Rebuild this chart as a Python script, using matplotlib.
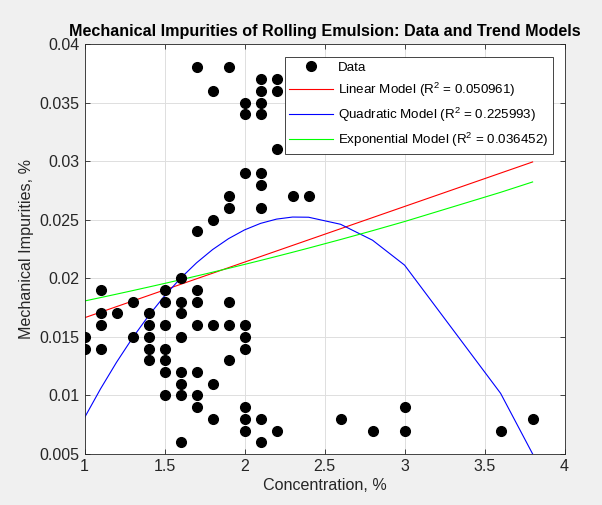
import numpy as np
import matplotlib
matplotlib.use("Agg")
import matplotlib.pyplot as plt
from matplotlib.ticker import FuncFormatter

plt.rcParams['font.family'] = ['Liberation Sans', 'DejaVu Sans']
plt.rcParams['mathtext.fontset'] = 'custom'
plt.rcParams['mathtext.rm'] = 'Liberation Sans'
plt.rcParams['mathtext.it'] = 'Liberation Sans:italic'

# measured data (concentration %, mechanical impurities %)
conc = [1.0, 1.0,
        1.1, 1.1, 1.1, 1.1,
        1.2,
        1.3, 1.3,
        1.4, 1.4, 1.4, 1.4, 1.4,
        1.5, 1.5, 1.5, 1.5, 1.5, 1.5, 1.5,
        1.6, 1.6, 1.6, 1.6, 1.6, 1.6, 1.6, 1.6,
        1.7, 1.7, 1.7, 1.7, 1.7, 1.7, 1.7, 1.7,
        1.8, 1.8, 1.8, 1.8, 1.8,
        1.9, 1.9, 1.9, 1.9, 1.9, 1.9,
        2.0, 2.0, 2.0, 2.0, 2.0, 2.0, 2.0, 2.0, 2.0,
        2.1, 2.1, 2.1, 2.1, 2.1, 2.1, 2.1, 2.1, 2.1,
        2.2, 2.2, 2.2, 2.2,
        2.3, 2.4, 2.6, 2.8, 3.0, 3.0, 3.6, 3.8]
impurity = [0.015, 0.014,
            0.019, 0.017, 0.016, 0.014,
            0.017,
            0.018, 0.015,
            0.017, 0.016, 0.015, 0.014, 0.013,
            0.019, 0.018, 0.016, 0.014, 0.013, 0.012, 0.010,
            0.020, 0.018, 0.017, 0.015, 0.012, 0.011, 0.010, 0.006,
            0.038, 0.024, 0.019, 0.018, 0.016, 0.012, 0.010, 0.009,
            0.036, 0.025, 0.016, 0.011, 0.008,
            0.038, 0.027, 0.026, 0.018, 0.016, 0.013,
            0.035, 0.034, 0.029, 0.016, 0.015, 0.014, 0.009, 0.008, 0.007,
            0.037, 0.036, 0.035, 0.034, 0.029, 0.028, 0.026, 0.008, 0.006,
            0.037, 0.036, 0.031, 0.007,
            0.027, 0.027, 0.008, 0.007, 0.009, 0.007, 0.007, 0.008]

# model coefficients as shown in the chart
lin_coef = [0.00475, 0.01188]                 # slope, intercept
quad_coef = [-0.009519, 0.044587, -0.026968]  # a, b, c
exp_coef = [0.015399, 0.15943]                # A, k  -> A*exp(k*x)
r2_lin = 0.050961
r2_quad = 0.225993
r2_exp = 0.036452

xs = np.unique(conc)
y_lin = np.polyval(lin_coef, xs)
y_quad = np.polyval(quad_coef, xs)
y_exp = exp_coef[0] * np.exp(exp_coef[1] * xs)

fig = plt.figure(figsize=(6.02, 5.05), dpi=100, facecolor='#f0f0f0')
ax = fig.add_axes([0.1404, 0.101, 0.7975, 0.8119])
ax.set_facecolor('white')

ax.plot(conc, impurity, 'o', color='black', ms=7, label='Data', zorder=3)
ax.plot(xs, y_lin, color='#ff0000', lw=0.8, label='Linear Model (R$^2$ = %.6f)' % r2_lin)
ax.plot(xs, y_quad, color='#0000ff', lw=0.8, label='Quadratic Model (R$^2$ = %.6f)' % r2_quad)
ax.plot(xs, y_exp, color='#00ff00', lw=0.8, label='Exponential Model (R$^2$ = %.6f)' % r2_exp)

ax.set_xlim(1, 4)
ax.set_ylim(0.005, 0.04)
ax.set_xticks(np.arange(1, 4.01, 0.5))
ax.set_yticks(np.arange(0.005, 0.0401, 0.005))
ax.xaxis.set_major_formatter(FuncFormatter(lambda v, p: '%g' % round(v, 4)))
ax.yaxis.set_major_formatter(FuncFormatter(lambda v, p: '%g' % round(v, 4)))
ax.grid(True, color='#dedede', lw=0.7)
ax.set_axisbelow(True)
ax.tick_params(direction='in', top=True, right=True, length=3.5, width=0.6,
               labelsize=11.5, colors='#262626')
for s in ax.spines.values():
    s.set_color('#262626')
    s.set_linewidth(0.6)

ax.set_xlabel('Concentration, %', fontsize=11.6, color='#262626', labelpad=3)
ax.set_ylabel('Mechanical Impurities, %', fontsize=11.6, color='#262626', labelpad=4)
ax.set_title('Mechanical Impurities of Rolling Emulsion: Data and Trend Models',
             fontsize=11.6, fontweight='bold', pad=6)

leg = ax.legend(loc='upper right', bbox_to_anchor=(0.9758, 0.969), borderaxespad=0,
                fancybox=False, framealpha=1, edgecolor='#262626', fontsize=9.6,
                handlelength=3.3, handletextpad=0.35, labelspacing=0.52, borderpad=0.35)
leg.get_frame().set_linewidth(0.6)

fig.savefig('out.png', dpi=100, facecolor=fig.get_facecolor())
